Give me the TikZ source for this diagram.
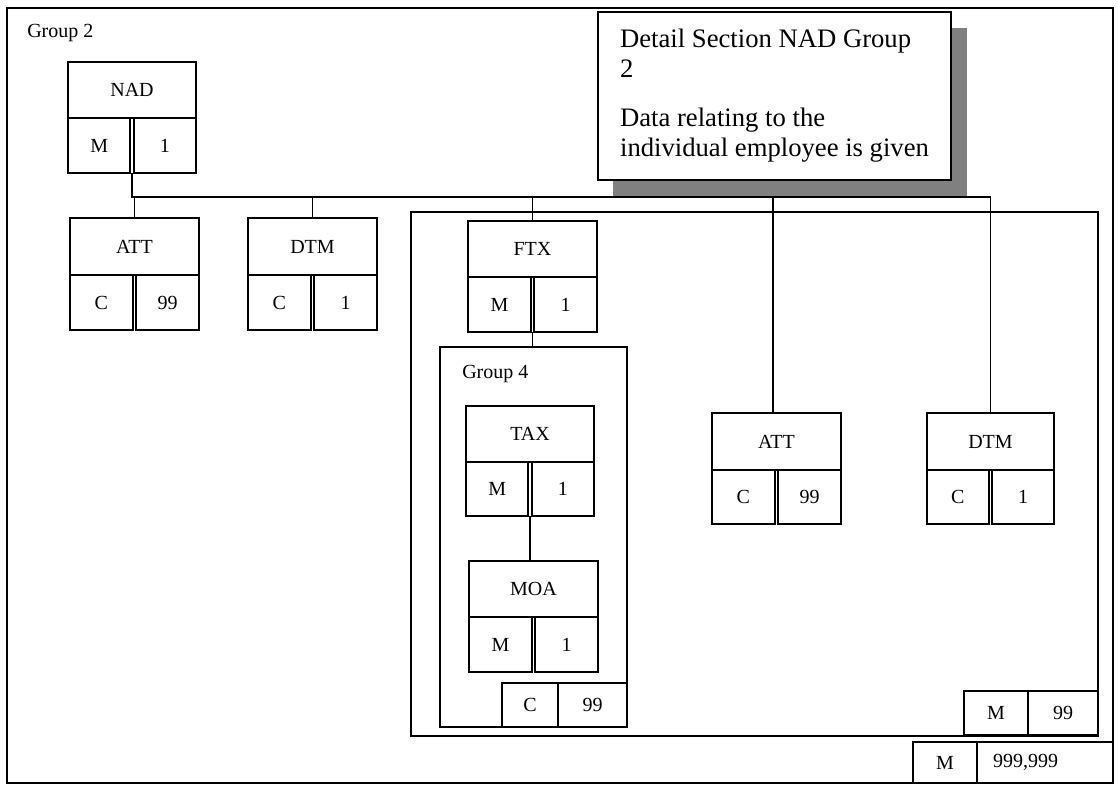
\documentclass[tikz,border=0pt]{standalone}
\usepackage{fontspec}
\setmainfont{Liberation Serif}
\newcommand\segfont{\fontsize{15pt}{18pt}\selectfont}
\newcommand\notefont{\fontsize{20pt}{22.5pt}\selectfont}
\newcommand\pxu{0.75pt}
% segment box: name, x, y (top left), width, top height, bottom height, tag, status, repeat
\newcommand\segbox[9]{%
  \node[cell, anchor=north west, minimum width=#4*\pxu, minimum height=#5*\pxu] (#1) at (#2,#3) {#7};
  \node[cell, anchor=north west, minimum width=(#4/2-1.7)*\pxu, minimum height=#6*\pxu] (#1-l) at (#1.south west) {#8};
  \node[cell, anchor=north east, minimum width=(#4/2-1.7)*\pxu, minimum height=#6*\pxu] (#1-r) at (#1.south east) {#9};
}
\begin{document}
\begin{tikzpicture}[x=0.75pt,y=-0.75pt,
  ln/.style={line width=1.3pt},
  cell/.style={draw, line width=1.3pt, inner sep=0pt, outer sep=0pt, font=\segfont},
  frame/.style={draw, line width=1.3pt, inner sep=0pt, outer sep=0pt, anchor=north west},
  lbl/.style={font=\segfont, inner sep=0pt, anchor=base west}]
\useasboundingbox (0,0) rectangle (1118,788);

% group frames
\node[frame, minimum width=1106*\pxu, minimum height=775*\pxu] (g2) at (7,8) {};
\node[frame, minimum width=687*\pxu, minimum height=524*\pxu] (g3) at (411,212) {};
\node[frame, minimum width=187*\pxu, minimum height=380*\pxu] (g4) at (440,347) {};
\node[lbl] (g2lbl) at (27,38) {Group 2};
\node[lbl] (g4lbl) at (462,378) {Group 4};

% note with shadow
\fill[black!50] (613,28) rectangle (967,197);
\node[draw, line width=1.6pt, fill=white, anchor=north west, inner sep=0pt, outer sep=0pt,
      minimum width=353*\pxu, minimum height=168*\pxu, align=left, font=\notefont] (note) at (598,12)
  {Detail Section NAD Group\\2\\[14.25pt]Data relating to the\\individual employee is given};

% segments
\segbox{nad}{68}{62}{128}{56}{55}{NAD}{M}{1}
\segbox{att1}{70}{218}{129}{57}{55}{ATT}{C}{99}
\segbox{dtm1}{248}{218}{129}{57}{55}{DTM}{C}{1}
\segbox{ftx}{468}{221}{129}{56}{55}{FTX}{M}{1}
\segbox{tax}{466}{406}{128}{56}{54}{TAX}{M}{1}
\segbox{moa}{469}{561}{129}{56}{55}{MOA}{M}{1}
\segbox{att2}{712}{413}{129}{57}{54}{ATT}{C}{99}
\segbox{dtm2}{927}{413}{127}{57}{54}{DTM}{C}{1}

% repetition boxes
\node[cell, anchor=north west, minimum width=56*\pxu, minimum height=44*\pxu] (g4st) at (502,683) {C};
\node[cell, anchor=north west, minimum width=69*\pxu, minimum height=44*\pxu] (g4rp) at (558,683) {99};
\node[cell, anchor=north west, minimum width=64*\pxu, minimum height=44*\pxu] (g3st) at (964,691) {M};
\node[cell, anchor=north west, minimum width=70*\pxu, minimum height=44*\pxu] (g3rp) at (1028,691) {99};
\node[cell, anchor=north west, minimum width=64*\pxu, minimum height=41*\pxu] (g2st) at (913,742) {M};
\node[cell, anchor=north west, inner xsep=16*\pxu, text width=104*\pxu, align=left, minimum height=41*\pxu] (g2rp) at (977,742) {999,999};

% connectors
\coordinate (busy) at (0,197);
\draw[ln] (nad-l.south -| nad.south) -- (nad.south |- busy) -- (dtm2.north |- busy) -- (dtm2.north);
\draw[ln] (att1.north) -- (att1.north |- busy);
\draw[ln] (dtm1.north) -- (dtm1.north |- busy);
\draw[ln] (ftx.north) -- (ftx.north |- busy);
\draw[ln] ([xshift=-3.5*\pxu]att2.north) -- ([xshift=-3.5*\pxu]att2.north |- busy);
\draw[ln] (ftx-l.south -| ftx.south) -- (ftx.south |- g4.north);
\draw[ln] (tax-l.south -| tax.south) -- (tax.south |- moa.north);
\end{tikzpicture}
\end{document}
